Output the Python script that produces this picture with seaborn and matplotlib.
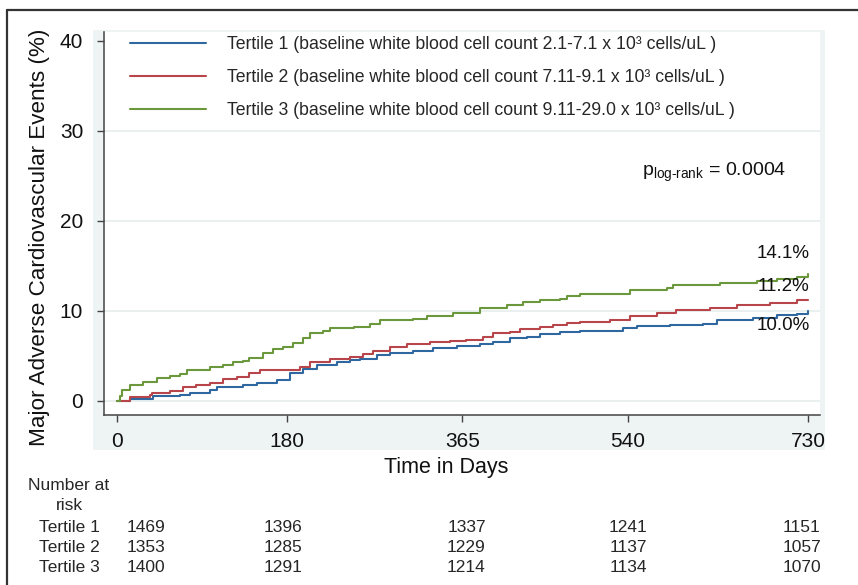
import numpy as np
import pandas as pd
import matplotlib
matplotlib.use("Agg")
import matplotlib.pyplot as plt
import matplotlib.transforms as mtransforms
from matplotlib.patches import Rectangle
from matplotlib.lines import Line2D
import seaborn as sns

# Kaplan-Meier style cumulative event curves
t1_days = [0, 14, 38, 67, 77, 98, 106, 133, 148, 169, 183, 197, 211, 232, 246, 257, 275,
           288, 313, 334, 359, 383, 397, 415, 433, 447, 468, 489, 521, 535, 549, 584,
           619, 634, 672, 697, 718, 730]
t1_vals = [0, 0.2, 0.5, 0.7, 0.9, 1.2, 1.5, 1.8, 2.0, 2.3, 3.1, 3.6, 4.0, 4.3, 4.6, 4.7, 5.1,
           5.3, 5.6, 5.9, 6.1, 6.3, 6.6, 7.0, 7.1, 7.4, 7.7, 7.8, 7.8, 8.1, 8.3, 8.4,
           8.6, 9.0, 9.2, 9.5, 9.7, 10.0]

t2_days = [0, 14, 35, 37, 56, 70, 84, 98, 112, 127, 140, 151, 183, 193, 204, 225, 246,
           260, 271, 288, 306, 331, 352, 369, 387, 397, 415, 426, 447, 461, 475, 489,
           521, 542, 570, 591, 626, 655, 690, 711, 718, 730]
t2_vals = [0, 0.4, 0.7, 0.9, 1.1, 1.6, 1.8, 2.0, 2.4, 2.7, 3.1, 3.4, 3.4, 3.8, 4.3, 4.7, 4.9,
           5.2, 5.6, 6.0, 6.3, 6.6, 6.7, 6.8, 7.1, 7.5, 7.7, 8.0, 8.2, 8.4, 8.7, 8.8,
           9.0, 9.4, 9.8, 10.1, 10.3, 10.7, 10.9, 10.9, 11.2, 11.2]

t3_days = [0, 3, 5, 14, 28, 42, 56, 67, 74, 91, 98, 112, 123, 133, 140, 154, 165, 175,
           186, 197, 204, 218, 225, 250, 267, 278, 313, 327, 344, 355, 369, 383, 412,
           429, 447, 468, 475, 489, 507, 542, 581, 587, 637, 676, 697, 718, 730]
t3_vals = [0, 0.6, 1.2, 1.8, 2.1, 2.5, 2.8, 3.0, 3.4, 3.4, 3.8, 4.0, 4.3, 4.4, 4.8, 5.3, 5.8,
           6.0, 6.4, 7.0, 7.5, 7.8, 8.1, 8.2, 8.6, 9.0, 9.1, 9.4, 9.4, 9.8, 9.8, 10.3,
           10.7, 11.0, 11.2, 11.3, 11.7, 11.9, 11.9, 12.3, 12.5, 12.9, 13.1, 13.3, 13.6,
           13.8, 14.1]

labels = [
    "Tertile 1 (baseline white blood cell count 2.1-7.1 x 10³ cells/uL )",
    "Tertile 2 (baseline white blood cell count 7.11-9.1 x 10³ cells/uL )",
    "Tertile 3 (baseline white blood cell count 9.11-29.0 x 10³ cells/uL )",
]
end_labels = ["10.0%", "11.2%", "14.1%"]
end_label_y = [8.4, 12.7, 16.4]

xticks = [0, 180, 365, 540, 730]
yticks = [0, 10, 20, 30, 40]

risk_groups = ["Tertile 1", "Tertile 2", "Tertile 3"]
risk_t1 = [1469, 1396, 1337, 1241, 1151]
risk_t2 = [1353, 1285, 1229, 1137, 1057]
risk_t3 = [1400, 1291, 1214, 1134, 1070]

colors = ["#2f68a0", "#b8454a", "#6b983c"]

df = pd.concat([
    pd.DataFrame({"day": t1_days, "pct": t1_vals, "group": labels[0]}),
    pd.DataFrame({"day": t2_days, "pct": t2_vals, "group": labels[1]}),
    pd.DataFrame({"day": t3_days, "pct": t3_vals, "group": labels[2]}),
])

sns.set_theme(style="white")
plt.rcParams["font.family"] = ["Liberation Sans", "DejaVu Sans"]
plt.rcParams["mathtext.fontset"] = "custom"
plt.rcParams["mathtext.rm"] = "Liberation Sans"
plt.rcParams["mathtext.it"] = "Liberation Sans:italic"

W, H = 858, 585
fig = plt.figure(figsize=(W / 100, H / 100), dpi=100)
fig.patch.set_facecolor("white")

# light graph region behind the plot
fig.patches.append(Rectangle((93 / W, 1 - 450 / H), (825 - 93) / W, (450 - 30) / H,
                             transform=fig.transFigure, facecolor="#eef3f3",
                             edgecolor="none", zorder=-5))
# outer frame (left and top)
fig.lines.append(Line2D([7 / W, 7 / W], [0, 1 - 10 / H], transform=fig.transFigure,
                        color="#333333", lw=1.6))
fig.lines.append(Line2D([7 / W, 1], [1 - 10 / H, 1 - 10 / H], transform=fig.transFigure,
                        color="#333333", lw=1.6))

ax = fig.add_axes([104 / W, 1 - 415 / H, (820 - 104) / W, (415 - 32) / H])
ax.set_facecolor("white")

sns.lineplot(data=df, x="day", y="pct", hue="group", palette=colors,
             estimator=None, drawstyle="steps-post", linewidth=1.5, ax=ax)

ax.set_xlim(-13.7, 742.7)
ax.set_ylim(-1.56, 41.0)
ax.set_xticks(xticks)
ax.set_yticks(yticks)
ax.tick_params(axis="both", direction="out", length=5, width=1, color="#444444",
               labelsize=15, labelcolor="#111111", left=True, bottom=True)
ax.tick_params(axis="y", pad=10)
ax.tick_params(axis="x", pad=7)
for y in yticks[:-1]:
    ax.axhline(y, color="#e6eeee", lw=1.2, zorder=0)

for side in ["top", "right"]:
    ax.spines[side].set_visible(False)
for side in ["left", "bottom"]:
    ax.spines[side].set_color("#444444")
    ax.spines[side].set_linewidth(1.1)

ax.set_xlabel("Time in Days", fontsize=15.5, color="#111111")
ax.set_ylabel("Major Adverse Cardiovascular Events (%)", fontsize=16.2, color="#111111")
ax.xaxis.set_label_coords((446 - 104) / 716, (415 - 457) / 383)
ax.yaxis.set_label_coords((50 - 104) / 716, (415 - 237) / 383)

leg = ax.legend(loc="upper left", bbox_to_anchor=((130 - 104) / 716, (415 - 36) / 383),
                frameon=False, fontsize=12.7, handlelength=4.3, handletextpad=1.2,
                labelspacing=0.92, borderpad=0, borderaxespad=0)
for line in leg.get_lines():
    line.set_linewidth(1.5)

for lab, y in zip(end_labels, end_label_y):
    ax.text(732, y, lab, ha="right", va="center", fontsize=13.5, color="#111111")

ax.text(555.0, 25.4, r"p$_{\text{log-rank}}$ = 0.0004", ha="left", va="center",
        fontsize=14, color="#111111")

# number-at-risk table
fs_tab = 12.5
lx = 69 / W
fig.text(lx, 1 - 486 / H, "Number at", ha="center", va="center", fontsize=fs_tab)
fig.text(lx, 1 - 506 / H, "risk", ha="center", va="center", fontsize=fs_tab)
row_y = [527, 548, 568]
col_shift = [29, -4, 4, 0, -6]
blend = mtransforms.blended_transform_factory(ax.transData, fig.transFigure)
for name, counts, y in zip(risk_groups, [risk_t1, risk_t2, risk_t3], row_y):
    fig.text(lx, 1 - y / H, name, ha="center", va="center", fontsize=fs_tab)
    for t, n, dx in zip(xticks, counts, col_shift):
        tr = blend + mtransforms.ScaledTranslation(dx / 100, 0, fig.dpi_scale_trans)
        fig.text(t, 1 - y / H, str(n), ha="center", va="center", fontsize=fs_tab,
                 transform=tr)

fig.savefig("out.png", dpi=100)
